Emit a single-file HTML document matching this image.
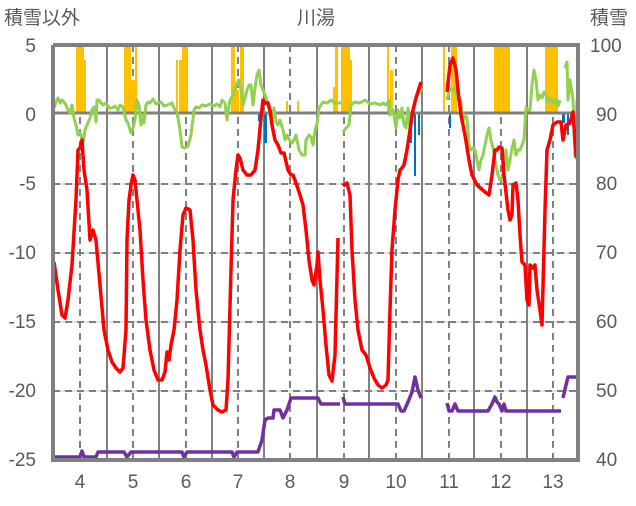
<!DOCTYPE html>
<html><head><meta charset="utf-8"><style>
body{margin:0;background:#fff}
svg text{font-family:"Liberation Sans","Noto Sans CJK JP",sans-serif;fill:#595959;font-size:19px}
</style></head><body>
<svg width="636" height="501" viewBox="0 0 636 501">
<g stroke="#c8c8c8" stroke-width="1">
<line x1="53" y1="184" x2="578" y2="184"/><line x1="53" y1="253" x2="578" y2="253"/><line x1="53" y1="322" x2="578" y2="322"/><line x1="53" y1="391" x2="578" y2="391"/>
</g>
<g stroke="#808080" stroke-width="2" stroke-dasharray="7,5">
<line x1="53" y1="184" x2="578" y2="184"/><line x1="53" y1="253" x2="578" y2="253"/><line x1="53" y1="322" x2="578" y2="322"/><line x1="53" y1="391" x2="578" y2="391"/>
<line x1="80" y1="45" x2="80" y2="460"/><line x1="133" y1="45" x2="133" y2="460"/><line x1="186" y1="45" x2="186" y2="460"/><line x1="238" y1="45" x2="238" y2="460"/><line x1="290" y1="45" x2="290" y2="460"/><line x1="344" y1="45" x2="344" y2="460"/><line x1="396" y1="45" x2="396" y2="460"/><line x1="449" y1="45" x2="449" y2="460"/><line x1="501" y1="45" x2="501" y2="460"/><line x1="553" y1="45" x2="553" y2="460"/>
</g>
<g stroke="#808080" stroke-width="2">
<line x1="107" y1="45" x2="107" y2="460"/><line x1="159" y1="45" x2="159" y2="460"/><line x1="212" y1="45" x2="212" y2="460"/><line x1="264" y1="45" x2="264" y2="460"/><line x1="317" y1="45" x2="317" y2="460"/><line x1="369" y1="45" x2="369" y2="460"/><line x1="422" y1="45" x2="422" y2="460"/><line x1="474" y1="45" x2="474" y2="460"/><line x1="527" y1="45" x2="527" y2="460"/>
</g>
<g fill="#ffc000">
<rect x="76" y="45" width="8" height="68"/><rect x="84" y="60" width="2" height="53"/>
<rect x="124" y="45" width="7" height="68"/><rect x="131" y="80" width="4" height="33"/><rect x="135" y="45" width="2" height="68"/>
<rect x="176" y="60" width="2" height="53"/><rect x="179" y="60" width="3" height="53"/><rect x="182" y="45" width="6" height="68"/>
<rect x="231" y="45" width="4" height="68"/><rect x="235" y="90" width="4" height="23"/><rect x="240" y="45" width="4" height="68"/>
<rect x="286" y="101" width="2" height="12"/><rect x="297" y="101" width="2" height="12"/>
<rect x="333" y="87" width="3" height="26"/><rect x="335" y="45" width="3" height="68"/><rect x="341" y="45" width="9" height="68"/><rect x="350" y="60" width="2" height="53"/>
<rect x="387" y="45" width="2" height="68"/><rect x="390" y="70" width="3" height="43"/>
<rect x="443" y="45" width="2" height="68"/><rect x="451" y="45" width="6" height="68"/>
<rect x="494" y="45" width="16" height="68"/>
<rect x="545" y="45" width="13" height="68"/>
</g>
<g fill="#0070c0">
<rect x="258" y="113" width="3" height="8"/><rect x="264" y="113" width="3" height="30"/>
<rect x="410" y="113" width="2" height="30"/><rect x="414" y="113" width="2" height="63"/><rect x="418" y="113" width="2" height="22"/>
<rect x="449" y="113" width="2" height="15"/><rect x="562" y="113" width="3" height="10"/><rect x="567" y="113" width="2" height="22"/>
</g>
<line x1="53" y1="113" x2="578" y2="113" stroke="#808080" stroke-width="3"/>
<g fill="none" stroke="#92d050" stroke-width="3" stroke-linejoin="round">
<polyline points="54,108 56,102 58,98 60,103 62,100 64,102 66,105 68,110 70,113 72,105 74,118 76,125 78,135 80,132 83,143 85,130 87,125 90,118 92,110 94,107 96,122 97,100 99,100 101,103 103,105 106,103 109,108 112,108 115,106 118,110 120,105 123,107 126,120 128,123 131,133 133,128 135,120 137,100 139,105 141,125 142,115 144,123 146,105 148,102 150,103 153,99 156,104 158,103 161,102 164,106 167,105 170,104 172,103 175,110 177,112 180,130 182,147 185,148 188,146 191,135 194,110 196,107 199,108 202,105 206,106 210,104 214,106 217,104 220,107 222,100 225,103 227,120 228,112 230,100 233,95 235,90 237,83 239,80 241,90 243,105 245,98 247,90 249,85 251,85 253,105 255,88 257,75 259,70 261,85 263,90 265,95 268,103 270,115 272,118 274,108 276,122 278,125 280,120 283,130 285,140 287,135 290,141 292,143 294,140 296,135 299,150 302,155 305,155 306,140 309,135 311,137 313,145 315,130 317,124 319,108 323,102 327,103 331,100 335,103 338,103 341,103"/>
<polyline points="343,133 346,128 349,125 351,105 355,102 360,103 365,100 370,104 375,103 380,105 383,103 386,105 389,100 390,115 393,110 396,128 398,110 400,118 402,108 404,125 406,128 408,108 410,128 412,118 415,100 417,95 420,92 422,88"/>
<polyline points="447,100 450,88 453,90 455,88 458,100 461,102 463,122 465,115 467,118 469,145 471,150 473,148 475,150 477,160 479,170 481,160 483,155 485,145 487,135 489,128 491,140 493,148 495,160 498,175 500,180 502,178 504,168 506,150 508,170 510,160 512,148 514,140 516,155 518,150 520,150 522,145 524,140 526,108 528,110 530,110 532,85 534,70 536,80 538,100 540,95 542,98 544,92 546,95 548,102 550,98 552,100 554,104 556,100 558,106 560,100"/>
<polyline points="565,68 567,62 568,100 570,80 573,100 575,157 577,100"/>
</g>
<g fill="none" stroke="#ff0000" stroke-width="3.5" stroke-linejoin="round">
<polyline points="54,262 58,290 62,315 65,318 68,300 72,265 76,200 78,150 80,148 82,140 84,170 87,190 90,240 93,230 96,240 100,285 104,330 108,350 112,362 116,368 120,372 123,368 126,330 127,240 129,200 131,185 133,175 135,180 137,200 140,230 143,280 146,320 150,350 154,370 158,380 162,380 165,372 167,352 169,360 171,345 174,330 177,300 180,250 183,215 186,208 190,210 193,240 196,290 200,330 203,350 206,365 210,390 213,405 218,410 222,412 226,410 228,380 231,270 233,200 236,170 238,155 240,158 243,170 247,175 251,175 255,170 258,150 261,118 263,100 265,103 268,103 270,110 272,125 275,140 278,145 281,153 284,153 288,170 291,175 293,175 296,183 300,195 303,205 306,230 309,260 312,280 314,285 317,265 318,252 320,280 323,310 326,345 329,375 332,381 335,355 338,238"/>
<polyline points="343,186 347,183 350,195 352,250 355,300 358,330 362,350 366,355 370,368 374,378 378,385 382,388 386,385 388,380 390,310 392,250 395,210 398,180 400,170 402,168 404,165 407,150 410,130 413,110 416,98 421,82"/>
<polyline points="447,92 450,65 453,58 456,70 458,90 461,115 465,135 469,160 472,175 477,185 485,192 489,195 492,175 495,150 497,150 499,147 502,148 504,175 508,210 510,220 512,215 513,185 516,183 518,200 520,235 522,262 525,265 527,300 529,305 530,265 533,268 535,265 537,290 540,310 542,325 545,210 547,150 550,140 553,125 557,122 561,122 563,140 566,125 570,123 573,112 576,155 578,160"/>
</g>
<g fill="none" stroke="#7030a0" stroke-width="3.5" stroke-linejoin="round">
<polyline points="54,457 80,457 82,451 84,457 96,457 98,452 124,452 127,457 131,452 182,452 184,457 187,452 232,452 234,457 237,452 258,452 262,440 265,420 268,418 273,418 274,410 280,410 283,418 287,410 291,398 318,398 321,404 340,404"/>
<polyline points="343,397 345,404 398,404 401,411 404,411 408,402 412,392 415,377 418,390 421,398"/>
<polyline points="447,403 449,411 452,411 455,404 458,411 488,411 492,404 495,397 497,402 499,404 502,411 504,404 506,411 561,411"/>
<polyline points="563,398 566,385 568,377 577,377"/>
</g>
<polyline points="53,45 578,45 578,460 53,460 53,45" fill="none" stroke="#808080" stroke-width="4"/>
<g text-anchor="end">
<text x="36" y="52">5</text><text x="36" y="121">0</text><text x="36" y="190">-5</text><text x="36" y="259">-10</text><text x="36" y="328">-15</text><text x="36" y="397">-20</text><text x="36" y="466">-25</text>
</g>
<g text-anchor="start">
<text x="590" y="52">100</text><text x="596" y="121">90</text><text x="596" y="190">80</text><text x="596" y="259">70</text><text x="596" y="328">60</text><text x="596" y="397">50</text><text x="596" y="466">40</text>
</g>
<g text-anchor="middle">
<text x="80" y="488">4</text><text x="133" y="488">5</text><text x="186" y="488">6</text><text x="238" y="488">7</text><text x="290" y="488">8</text><text x="344" y="488">9</text><text x="396" y="488">10</text><text x="449" y="488">11</text><text x="501" y="488">12</text><text x="553" y="488">13</text>
<text x="316" y="24">川湯</text>
</g>
<text x="4" y="24">積雪以外</text>
<text x="590" y="24">積雪</text>
</svg>
</body></html>
